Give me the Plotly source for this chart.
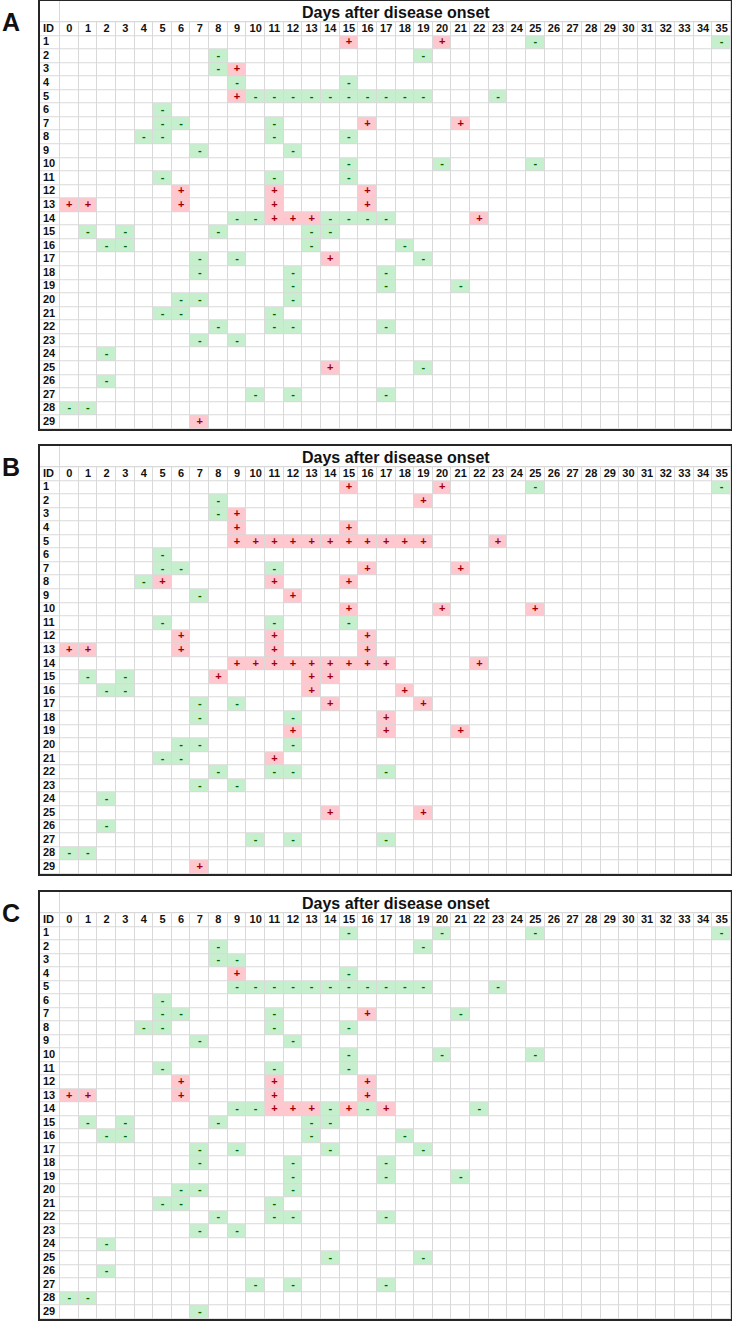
import plotly.graph_objects as go

# ---------------- data ----------------
DAYS = list(range(36))
IDS = list(range(1, 30))
PANEL_LABELS = ["A", "B", "C"]
TITLE = "Days after disease onset"

# each entry: results for patient ID (1..29) as "day+sign" tokens
PANEL_A = [
    "15+ 20+ 25- 35-",
    "8- 19-",
    "8- 9+",
    "9- 15-",
    "9+ 10- 11- 12- 13- 14- 15- 16- 17- 18- 19- 23-",
    "5-",
    "5- 6- 11- 16+ 21+",
    "4- 5- 11- 15-",
    "7- 12-",
    "15- 20- 25-",
    "5- 11- 15-",
    "6+ 11+ 16+",
    "0+ 1+ 6+ 11+ 16+",
    "9- 10- 11+ 12+ 13+ 14- 15- 16- 17- 22+",
    "1- 3- 8- 13- 14-",
    "2- 3- 13- 18-",
    "7- 9- 14+ 19-",
    "7- 12- 17-",
    "12- 17- 21-",
    "6- 7- 12-",
    "5- 6- 11-",
    "8- 11- 12- 17-",
    "7- 9-",
    "2-",
    "14+ 19-",
    "2-",
    "10- 12- 17-",
    "0- 1-",
    "7+",
]

PANEL_B = [
    "15+ 20+ 25- 35-",
    "8- 19+",
    "8- 9+",
    "9+ 15+",
    "9+ 10+ 11+ 12+ 13+ 14+ 15+ 16+ 17+ 18+ 19+ 23+",
    "5-",
    "5- 6- 11- 16+ 21+",
    "4- 5+ 11+ 15+",
    "7- 12+",
    "15+ 20+ 25+",
    "5- 11- 15-",
    "6+ 11+ 16+",
    "0+ 1+ 6+ 11+ 16+",
    "9+ 10+ 11+ 12+ 13+ 14+ 15+ 16+ 17+ 22+",
    "1- 3- 8+ 13+ 14+",
    "2- 3- 13+ 18+",
    "7- 9- 14+ 19+",
    "7- 12- 17+",
    "12+ 17+ 21+",
    "6- 7- 12-",
    "5- 6- 11+",
    "8- 11- 12- 17-",
    "7- 9-",
    "2-",
    "14+ 19+",
    "2-",
    "10- 12- 17-",
    "0- 1-",
    "7+",
]

PANEL_C = [
    "15- 20- 25- 35-",
    "8- 19-",
    "8- 9-",
    "9+ 15-",
    "9- 10- 11- 12- 13- 14- 15- 16- 17- 18- 19- 23-",
    "5-",
    "5- 6- 11- 16+ 21-",
    "4- 5- 11- 15-",
    "7- 12-",
    "15- 20- 25-",
    "5- 11- 15-",
    "6+ 11+ 16+",
    "0+ 1+ 6+ 11+ 16+",
    "9- 10- 11+ 12+ 13+ 14- 15+ 16- 17+ 22-",
    "1- 3- 8- 13- 14-",
    "2- 3- 13- 18-",
    "7- 9- 14- 19-",
    "7- 12- 17-",
    "12- 17- 21-",
    "6- 7- 12-",
    "5- 6- 11-",
    "8- 11- 12- 17-",
    "7- 9-",
    "2-",
    "14- 19-",
    "2-",
    "10- 12- 17-",
    "0- 1-",
    "7-",
]

PANELS = [PANEL_A, PANEL_B, PANEL_C]

# ---------------- style / layout ----------------
FIG_W, FIG_H = 732, 1321
X_LEFT, X_RIGHT = 40, 731
PANEL_BOXES = [(1, 429), (446, 874), (892, 1319)]  # top, bottom in px
W_ID = 20 / 18.64          # ID column width in day-column units
T_TOP = 1 + 21.3 / 13.59   # title row + header row height in row units

GREEN_FILL = "#c6efce"
RED_FILL = "#ffc7ce"
GREEN_TXT = "#006100"
RED_TXT = "#9c0006"
GRID = "#d9d9d9"
BORDER = "#262626"
FONT = "Liberation Sans, Arial, sans-serif"

fig = go.Figure()

for p, (rows, label, (top, bottom)) in enumerate(zip(PANELS, PANEL_LABELS, PANEL_BOXES)):
    ax = "" if p == 0 else str(p + 1)
    xref, yref = "x" + ax, "y" + ax

    z = [[0] * (len(DAYS) + 1)]  # header row
    plus_x, plus_y, minus_x, minus_y = [], [], [], []
    for pid, row in zip(IDS, rows):
        zr = [0] * (len(DAYS) + 1)
        for tok in row.split():
            d, s = int(tok[:-1]), tok[-1]
            zr[d + 1] = 2 if s == "+" else 1
            if s == "+":
                plus_x.append(d + 0.5); plus_y.append(pid - 0.5)
            else:
                minus_x.append(d + 0.5); minus_y.append(pid - 0.5)
        z.append(zr)

    x_edges = [-W_ID] + list(DAYS) + [len(DAYS)]
    y_edges = [-1, 0] + IDS

    fig.add_trace(go.Heatmap(
        z=z, x=x_edges, y=y_edges, xgap=1, ygap=1,
        colorscale=[[0, "#ffffff"], [0.5, GREEN_FILL], [1, RED_FILL]],
        zmin=0, zmax=2, showscale=False, hoverinfo="skip",
        xaxis=xref, yaxis=yref))
    # title row (merged across day columns)
    fig.add_trace(go.Heatmap(
        z=[[0, 0]], x=[-W_ID, 0, len(DAYS)], y=[-T_TOP, -1], xgap=1, ygap=1,
        colorscale=[[0, "#ffffff"], [1, "#ffffff"]], zmin=0, zmax=1,
        showscale=False, hoverinfo="skip", xaxis=xref, yaxis=yref))

    fig.add_trace(go.Scatter(
        x=[d + 0.5 for d in DAYS], y=[-0.5] * len(DAYS), text=[str(d) for d in DAYS],
        mode="text", textposition="middle center",
        textfont=dict(family=FONT, size=11, color="#111111", weight="bold"),
        hoverinfo="skip", xaxis=xref, yaxis=yref, showlegend=False))
    fig.add_trace(go.Scatter(
        x=[-W_ID + 0.16] * (len(IDS) + 1), y=[-0.5] + [i - 0.5 for i in IDS],
        text=["ID"] + [str(i) for i in IDS],
        mode="text", textposition="middle right",
        textfont=dict(family=FONT, size=11, color="#111111", weight="bold"),
        hoverinfo="skip", xaxis=xref, yaxis=yref, showlegend=False))
    fig.add_trace(go.Scatter(
        x=plus_x, y=plus_y, text=["+"] * len(plus_x), mode="text",
        textfont=dict(family=FONT, size=11, color=RED_TXT, weight="bold"),
        hoverinfo="skip", xaxis=xref, yaxis=yref, showlegend=False))
    fig.add_trace(go.Scatter(
        x=minus_x, y=minus_y, text=["-"] * len(minus_x), mode="text",
        textfont=dict(family=FONT, size=11, color=GREEN_TXT, weight="bold"),
        hoverinfo="skip", xaxis=xref, yaxis=yref, showlegend=False))

    axis_common = dict(showgrid=False, zeroline=False, showticklabels=False, ticks="",
                       showline=True, mirror=True, linecolor=BORDER, linewidth=2,
                       fixedrange=True)
    fig.update_layout({
        "xaxis" + ax: dict(domain=[X_LEFT / FIG_W, X_RIGHT / FIG_W],
                           range=[-W_ID, len(DAYS)], anchor=yref, **axis_common),
        "yaxis" + ax: dict(domain=[1 - bottom / FIG_H, 1 - top / FIG_H],
                           range=[len(IDS), -T_TOP], anchor=xref, **axis_common),
    })

    fig.add_annotation(text=TITLE, x=len(DAYS) / 2, y=-1 - (T_TOP - 1) / 2 + 0.1,
                       xref=xref, yref=yref, showarrow=False,
                       font=dict(family=FONT, size=16, color="#111111", weight="bold"))
    fig.add_annotation(text=label, x=0, xanchor="left", y=1 - (top + 20.5) / FIG_H,
                       yanchor="middle", xref="paper", yref="paper", showarrow=False,
                       font=dict(family=FONT, size=25, color="#111111", weight="bold"))

fig.update_layout(width=FIG_W, height=FIG_H, margin=dict(l=0, r=0, t=0, b=0),
                  paper_bgcolor="white", plot_bgcolor=GRID, showlegend=False,
                  autosize=False)

fig.write_html("out.html", config={"displayModeBar": False, "staticPlot": True},
               post_script="document.body.style.margin='0';")
